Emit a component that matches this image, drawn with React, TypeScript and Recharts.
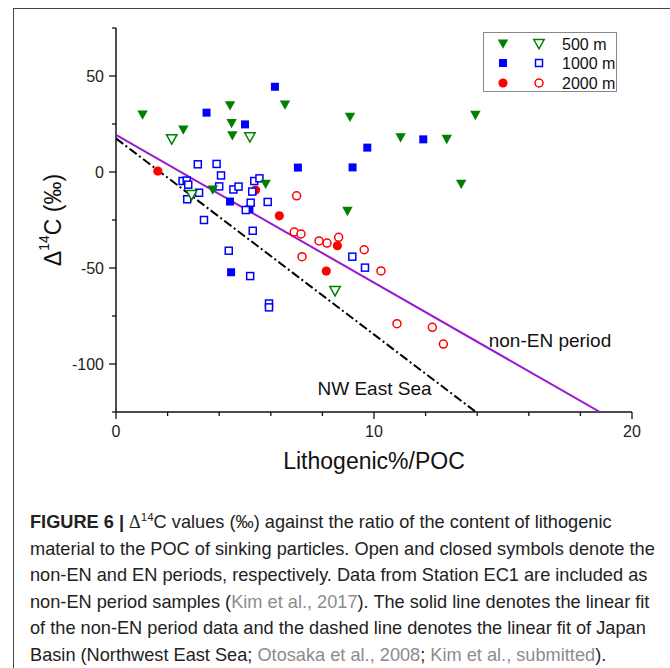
import React from 'react';
import { ScatterChart, Scatter, XAxis, YAxis } from 'recharts';

// 500 m, closed (EN period)
const m500Closed = [
  { x: 1.03, y: 29.7 }, { x: 2.61, y: 21.9 }, { x: 4.42, y: 34.5 }, { x: 4.48, y: 25.3 },
  { x: 4.51, y: 18.9 }, { x: 6.55, y: 34.9 }, { x: 9.07, y: 28.5 }, { x: 11.03, y: 17.9 },
  { x: 12.82, y: 17.0 }, { x: 13.93, y: 29.5 }, { x: 13.38, y: -6.4 }, { x: 8.97, y: -20.5 },
  { x: 3.75, y: -9.4 }, { x: 5.8, y: -6.4 },
];
// 500 m, open (non-EN period)
const m500Open = [
  { x: 2.16, y: 17.0 }, { x: 5.19, y: 18.1 }, { x: 2.93, y: -12.0 }, { x: 8.49, y: -62.0 },
];
const m1000Closed = [
  { x: 3.51, y: 30.9 }, { x: 5.0, y: 24.8 }, { x: 6.16, y: 44.4 }, { x: 7.05, y: 2.3 },
  { x: 9.17, y: 2.4 }, { x: 9.74, y: 12.7 }, { x: 11.91, y: 17.0 }, { x: 4.42, y: -15.4 },
  { x: 5.17, y: -19.4 }, { x: 4.46, y: -52.2 },
];
const m1000Open = [
  { x: 3.17, y: 4.0 }, { x: 3.9, y: 4.2 }, { x: 4.07, y: -1.8 }, { x: 2.58, y: -4.7 },
  { x: 2.74, y: -4.5 }, { x: 2.8, y: -6.6 }, { x: 4.0, y: -7.5 }, { x: 3.22, y: -10.8 },
  { x: 2.76, y: -14.2 }, { x: 4.55, y: -9.1 }, { x: 4.75, y: -7.6 }, { x: 5.36, y: -4.7 },
  { x: 5.56, y: -3.3 }, { x: 5.28, y: -10.2 }, { x: 5.88, y: -15.6 }, { x: 5.22, y: -16.0 },
  { x: 5.03, y: -19.8 }, { x: 3.41, y: -25.0 }, { x: 5.3, y: -30.6 }, { x: 4.37, y: -41.0 },
  { x: 5.2, y: -54.2 }, { x: 5.93, y: -68.5 }, { x: 5.93, y: -70.5 }, { x: 9.16, y: -44.1 },
  { x: 9.65, y: -49.8 },
];
const m2000Closed = [
  { x: 1.62, y: 0.5 }, { x: 5.41, y: -9.4 }, { x: 6.33, y: -22.8 }, { x: 8.58, y: -38.4 },
  { x: 8.15, y: -51.6 },
];
const m2000Open = [
  { x: 7.0, y: -12.4 }, { x: 6.91, y: -31.3 }, { x: 7.17, y: -32.3 }, { x: 7.87, y: -35.9 },
  { x: 8.18, y: -37.0 }, { x: 8.63, y: -34.0 }, { x: 7.21, y: -44.1 }, { x: 9.62, y: -40.5 },
  { x: 10.27, y: -51.5 }, { x: 10.89, y: -79.0 }, { x: 12.26, y: -80.9 }, { x: 12.69, y: -89.6 },
];

// fit lines, end points
const nonEnFit = [{ x: 0, y: 19.3 }, { x: 18.76, y: -125 }];
const nwEastSeaFit = [{ x: 0, y: 17.5 }, { x: 13.95, y: -125 }];

const xTicks = [0, 2, 4, 6, 8, 10, 12, 14, 16, 18, 20];
const yTicks = [-125, -100, -75, -50, -25, 0, 25, 50, 75];

const legendRows = [
  { label: '500 m', shape: 'tri', color: '#007f00' },
  { label: '1000 m', shape: 'sq', color: '#0000ff' },
  { label: '2000 m', shape: 'circ', color: '#ff0000' },
];

const FONT = '"Liberation Sans", Arial, Helvetica, sans-serif';
const GREEN = '#007f00';
const BLUE = '#0000ff';
const RED = '#ff0000';

const Marker = ({ cx, cy, shape, color, open }: any) => {
  const fill = open ? '#fff' : color;
  const stroke = color;
  const sw = open ? 1.5 : 0;
  if (shape === 'tri') {
    const pts = `${cx - 5.2},${cy - 4.5} ${cx + 5.2},${cy - 4.5} ${cx},${cy + 4.8}`;
    return <polygon points={pts} fill={fill} stroke={open ? stroke : 'none'} strokeWidth={sw} />;
  }
  if (shape === 'sq') {
    const s = open ? 7 : 8;
    return <rect x={cx - s / 2} y={cy - s / 2} width={s} height={s} fill={fill} stroke={open ? stroke : 'none'} strokeWidth={sw} />;
  }
  return <circle cx={cx} cy={cy} r={open ? 4 : 4.6} fill={fill} stroke={open ? stroke : 'none'} strokeWidth={sw} />;
};

const mk = (shape: string, color: string, open: boolean) => (p: any) =>
  <Marker cx={p.cx} cy={p.cy} shape={shape} color={color} open={open} />;

const BottomTick = ({ x, y, payload }: any) => {
  const major = payload.value % 10 === 0;
  return (
    <g>
      <line x1={x} x2={x} y1={y} y2={y + (major ? 7 : 4)} stroke="#111" strokeWidth={1.3} />
      {major && (
        <text x={x} y={y + 25} textAnchor="middle" fontSize={16} fill="#222" fontFamily={FONT}>
          {payload.value}
        </text>
      )}
    </g>
  );
};

const LeftTick = ({ x, y, payload }: any) => {
  const major = payload.value % 50 === 0;
  return (
    <g>
      <line x1={x - (major ? 7 : 4)} x2={x} y1={y} y2={y} stroke="#111" strokeWidth={1.3} />
      {major && (
        <text x={x - 12} y={y} dy="0.35em" textAnchor="end" fontSize={16} fill="#222" fontFamily={FONT}>
          {payload.value}
        </text>
      )}
    </g>
  );
};

const TopTick = ({ x, y }: any) => <line x1={x} x2={x} y1={y} y2={y + 6} stroke="#111" strokeWidth={1.3} />;
const RightTick = ({ x, y }: any) => <line x1={x - 6} x2={x} y1={y} y2={y} stroke="#111" strokeWidth={1.3} />;

const Note = ({ cx, cy, text }: any) => (
  <text x={cx} y={cy} textAnchor="middle" dominantBaseline="central" fontSize={19} fill="#111" fontFamily={FONT}>
    {text}
  </text>
);

const LegendSymbol = ({ shape, color, open }: any) => (
  <svg width={14} height={14} style={{ display: 'block' }}>
    <Marker cx={7} cy={7} shape={shape} color={color} open={open} />
  </svg>
);

const gray = { color: '#8c8c8c' };

export default function App() {
  return (
    <div style={{ position: 'absolute', left: 0, top: 0, width: 670, height: 668, background: '#fff', overflow: 'hidden' }}>
      <div style={{ position: 'absolute', left: 13, top: 8, width: 670, height: 680, borderLeft: '1.5px solid #444', borderTop: '1.5px solid #444' }} />
      <div style={{ position: 'absolute', left: 0, top: 0 }}>
        <ScatterChart width={670} height={500} margin={{ top: 28, right: 38, bottom: 0, left: 56 }}>
          <XAxis
            type="number"
            dataKey="x"
            domain={[0, 20]}
            ticks={xTicks}
            interval={0}
            height={88}
            tickSize={0}
            tickMargin={0}
            tickLine={false}
            tick={<BottomTick />}
            axisLine={{ stroke: '#111', strokeWidth: 1.5 }}
            allowDataOverflow
            label={{
              content: ({ viewBox }: any) => (
                <text x={viewBox.x + viewBox.width / 2} y={viewBox.y + 57} textAnchor="middle" fontSize={23} fill="#111" fontFamily={FONT}>
                  Lithogenic%/POC
                </text>
              ),
            }}
          />
          <XAxis
            xAxisId="top"
            orientation="top"
            type="number"
            domain={[0, 20]}
            ticks={xTicks}
            interval={0}
            height={0}
            tickSize={0}
            tickMargin={0}
            tickLine={false}
            tick={<TopTick />}
            axisLine={{ stroke: '#111', strokeWidth: 1.5 }}
          />
          <YAxis
            type="number"
            dataKey="y"
            domain={[-125, 75]}
            ticks={yTicks}
            interval={0}
            width={60}
            tickSize={0}
            tickMargin={0}
            tickLine={false}
            tick={<LeftTick />}
            axisLine={{ stroke: '#111', strokeWidth: 1.5 }}
            allowDataOverflow
            label={{
              content: ({ viewBox }: any) => {
                const cx = viewBox.x - 3;
                const cy = viewBox.y + viewBox.height / 2;
                return (
                  <text x={cx} y={cy} transform={`rotate(-90 ${cx} ${cy})`} textAnchor="middle" dominantBaseline="central" fontSize={23} fill="#111" fontFamily={FONT}>
                    <tspan>Δ</tspan>
                    <tspan fontSize={14} dy={-9}>14</tspan>
                    <tspan dy={9}>C (‰)</tspan>
                  </text>
                );
              },
            }}
          />
          <YAxis
            yAxisId="right"
            orientation="right"
            type="number"
            domain={[-125, 75]}
            ticks={yTicks}
            interval={0}
            width={0}
            tickSize={0}
            tickMargin={0}
            tickLine={false}
            tick={<RightTick />}
            axisLine={{ stroke: '#111', strokeWidth: 1.5 }}
          />
          <Scatter data={nwEastSeaFit} line={{ stroke: '#000', strokeWidth: 2, strokeDasharray: '9 3 2 3' }} shape={() => <g />} isAnimationActive={false} />
          <Scatter data={nonEnFit} line={{ stroke: '#9b17cf', strokeWidth: 2 }} shape={() => <g />} isAnimationActive={false} />
          <Scatter data={[{ x: 16.82, y: -87.5 }]} shape={(p: any) => <Note cx={p.cx} cy={p.cy} text="non-EN period" />} isAnimationActive={false} />
          <Scatter data={[{ x: 10.02, y: -112.5 }]} shape={(p: any) => <Note cx={p.cx} cy={p.cy} text="NW East Sea" />} isAnimationActive={false} />
          <Scatter data={m1000Closed} shape={mk('sq', BLUE, false)} isAnimationActive={false} />
          <Scatter data={m2000Closed} shape={mk('circ', RED, false)} isAnimationActive={false} />
          <Scatter data={m1000Open} shape={mk('sq', BLUE, true)} isAnimationActive={false} />
          <Scatter data={m2000Open} shape={mk('circ', RED, true)} isAnimationActive={false} />
          <Scatter data={m500Open} shape={mk('tri', GREEN, true)} isAnimationActive={false} />
          <Scatter data={m500Closed} shape={mk('tri', GREEN, false)} isAnimationActive={false} />
        </ScatterChart>
      </div>

      <div style={{ position: 'absolute', left: 483, top: 32, width: 134, height: 60, border: '1px solid #888', background: '#fff', boxSizing: 'border-box' }}>
        {legendRows.map((r, i) => (
          <div key={r.label} style={{ position: 'absolute', left: 0, top: 1.5 + i * 19.5, height: 19, width: 133 }}>
            <div style={{ position: 'absolute', left: 12, top: 2 }}><LegendSymbol shape={r.shape} color={r.color} open={false} /></div>
            <div style={{ position: 'absolute', left: 48, top: 2 }}><LegendSymbol shape={r.shape} color={r.color} open /></div>
            <div style={{ position: 'absolute', left: 78, top: 0, fontFamily: FONT, fontSize: 16, lineHeight: '19px', color: '#111' }}>{r.label}</div>
          </div>
        ))}
      </div>

      <div style={{ position: 'absolute', left: 30, top: 509, fontFamily: FONT, fontSize: 18.2, lineHeight: '26.6px', color: '#222', whiteSpace: 'nowrap' }}>
        <div>
          <b>FIGURE 6 |</b> <span style={{ fontFamily: '"Liberation Serif", serif' }}>Δ</span>
          <sup style={{ fontSize: 11.5, verticalAlign: 'super', lineHeight: 0 }}>14</sup>C values (‰) against the ratio of the content of lithogenic
        </div>
        <div>material to the POC of sinking particles. Open and closed symbols denote the</div>
        <div>non-EN and EN periods, respectively. Data from Station EC1 are included as</div>
        <div>
          non-EN period samples (<span style={gray}>Kim et al., 2017</span>). The solid line denotes the linear fit
        </div>
        <div>of the non-EN period data and the dashed line denotes the linear fit of Japan</div>
        <div>
          Basin (Northwest East Sea; <span style={gray}>Otosaka et al., 2008</span>; <span style={gray}>Kim et al., submitted</span>).
        </div>
      </div>
    </div>
  );
}
